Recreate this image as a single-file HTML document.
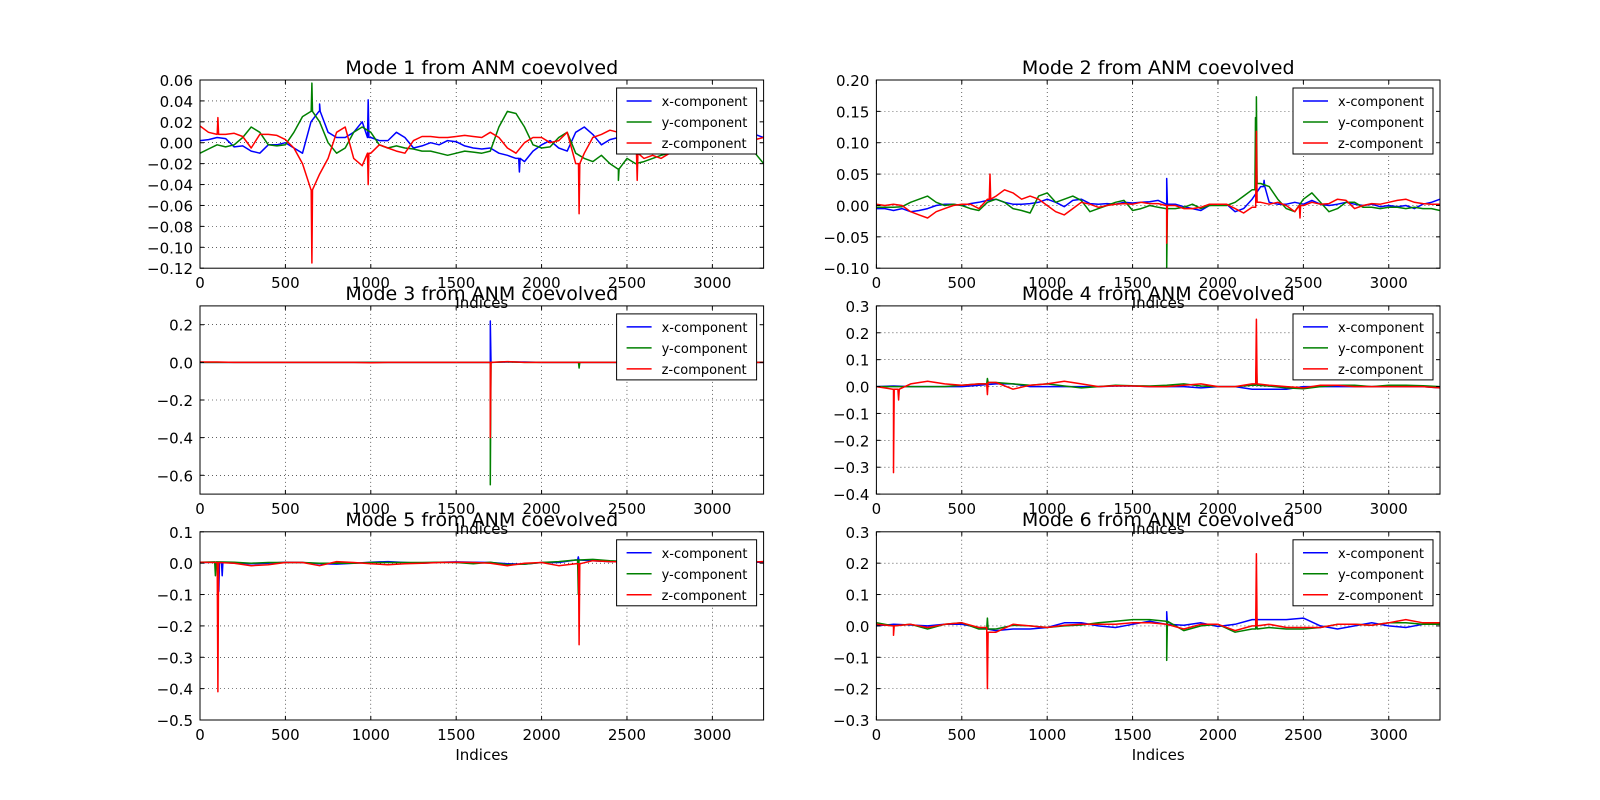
<!DOCTYPE html>
<html><head><meta charset="utf-8">
<style>
body{margin:0;background:#fff;}
svg{display:block;font-family:"DejaVu Sans","Liberation Sans",sans-serif;}
</style></head>
<body>
<svg id="fig" width="1600" height="800" viewBox="0 0 1600 800" xmlns="http://www.w3.org/2000/svg">
<rect x="0" y="0" width="1600" height="800" fill="#fff"/>
</svg>
<script>
// ---- data ----
const xTicks=[0,500,1000,1500,2000,2500,3000];
const grid50=[];for(let i=0;i<=3300;i+=50)grid50.push(i);
const grid100=[];for(let i=0;i<=3300;i+=100)grid100.push(i);

const m1Ticks=[0.06,0.04,0.02,0,-0.02,-0.04,-0.06,-0.08,-0.10,-0.12];
const m1X=[0.002,0.003,0.005,0.004,-0.004,-0.003,-0.008,-0.01,-0.002,-0.002,0,-0.005,-0.01,0.02,0.03,0.01,0.005,0.005,0.01,0.02,0.005,0.002,0.002,0.01,0.005,-0.005,-0.003,0,-0.002,0.002,0.001,-0.003,-0.005,-0.006,-0.005,-0.01,-0.012,-0.015,-0.018,-0.008,-0.002,0.002,-0.005,-0.008,0.01,0.015,0.008,-0.002,0.003,0.005,0.008,0.005,0.004,0.003,0.006,0.004,0.003,0.002,0.003,0.002,0.004,0.003,0.002,0.003,0.004,0.008,0.005];
const m1XspX=[700,985,1870],m1XspY=[0.037,0.041,-0.028];
const m1Y=[-0.01,-0.006,-0.002,-0.004,-0.002,0.005,0.015,0.01,-0.002,-0.003,-0.002,0.01,0.025,0.03,0.02,0,-0.01,-0.005,0.01,0.015,0.01,-0.002,-0.005,-0.003,-0.005,-0.006,-0.008,-0.008,-0.01,-0.012,-0.01,-0.008,-0.009,-0.01,-0.008,0.015,0.03,0.028,0.015,-0.002,-0.005,-0.004,0.005,0.01,-0.01,-0.015,-0.018,-0.012,-0.02,-0.025,-0.015,-0.02,-0.018,-0.015,-0.012,-0.01,-0.008,-0.01,-0.008,-0.008,-0.006,-0.005,-0.006,-0.006,-0.005,-0.01,-0.02];
const m1YspX=[655,2450],m1YspY=[0.057,-0.036];
const m1Z=[0.016,0.01,0.008,0.008,0.009,0.006,-0.005,0.008,0.008,0.007,0.003,-0.005,-0.02,-0.045,-0.03,-0.015,0.01,0.015,-0.015,-0.022,-0.01,-0.002,-0.005,-0.008,-0.01,0.002,0.006,0.006,0.005,0.005,0.006,0.007,0.006,0.005,0.01,0.005,-0.005,-0.01,0,0.005,0.005,0,0.002,0.01,-0.02,-0.01,0.005,0.008,0.012,0.01,0.005,-0.01,-0.015,-0.012,-0.015,-0.01,0.008,0.008,0.008,0.008,0.007,0.008,0.008,0.008,0.005,0.003,0.005];
const m1ZspX=[105,655,985,2220,2560],m1ZspY=[0.024,-0.115,-0.04,-0.068,-0.036];

const m2Ticks=[0.20,0.15,0.10,0.05,0,-0.05,-0.10];
const m2X=[-0.005,-0.005,-0.008,-0.005,-0.01,-0.008,-0.005,0,0.002,0.002,0,0.003,0.005,0.008,0.01,0.005,0.002,0.002,0.003,0.005,0.01,0.005,-0.002,0.008,0.01,0.003,0.002,0.003,0.002,0.005,0.004,0.005,0.006,0.008,0.002,0.002,-0.002,-0.005,-0.008,0,0.002,0.002,-0.01,-0.005,0.01,0.03,0.005,0.002,0.002,0.005,0.002,0.008,0.002,0,0.002,0.005,0.002,0,0.002,-0.002,0,-0.002,0,-0.005,0.002,0.005,0.01];
const m2XspX=[1700,2270],m2XspY=[0.043,0.04];
const m2Y=[-0.003,-0.003,-0.003,-0.002,0.005,0.01,0.015,0.005,0,0.002,0,-0.005,-0.008,0.005,0.01,0.005,-0.005,-0.008,-0.012,0.015,0.02,0.005,0.01,0.015,0.008,-0.01,-0.005,0,0.005,0.008,-0.008,-0.005,0,-0.003,-0.005,-0.005,-0.003,0.002,-0.005,0,0,0,0.005,0.015,0.025,0.035,0.03,0.01,-0.005,-0.01,0.01,0.02,0.005,-0.01,-0.005,0.005,0.005,-0.003,-0.003,-0.005,-0.003,-0.003,-0.005,-0.003,-0.005,-0.005,-0.008];
const m2YspX=[1700,2220,2225],m2YspY=[-0.1,0.14,0.173];
const m2Z=[0.002,0,0.002,0,-0.01,-0.015,-0.02,-0.01,-0.005,0,0.002,0.002,-0.005,0.01,0.015,0.025,0.02,0.01,0.015,0.01,0,-0.01,-0.015,-0.005,0.005,0.002,-0.003,0,0.002,0.003,0.002,0.005,0.003,0.003,0,0,-0.005,-0.005,-0.003,0.002,0.002,0.002,-0.005,-0.012,-0.003,0.005,0.002,0.005,0,-0.01,0,0.005,0.002,0.003,0.01,0.008,-0.005,0,0.003,0.002,0.005,0.008,0.01,0.005,0.003,0.002,0.002];
const m2ZspX=[665,1700,2225,2480],m2ZspY=[0.05,-0.06,0.118,-0.02];

const m3Ticks=[0.2,0,-0.2,-0.4,-0.6];
const m3X=[0,0,0,0,0,0,0,0,0,0,0,0,0,0,0,0,0,0,0.002,0.002,0,0,0,0,0,0,0,0,0,0,0,0,0,0];
const m3XspX=[1700],m3XspY=[0.22];
const m3Y=[0,0,0,0,0,0,0,0,0,0,0,0,0,0,0,0,0,0,0.003,0,0,0,0,0,0,0,0,0,0,0,0,0,0,0];
const m3YspX=[1700,2220],m3YspY=[-0.65,-0.03];
const m3Z=[0.002,0.002,0,0,0,0,0,0,0,0,-0.002,0,0,0,0,0,0,0,0.004,0,0,0,0,0,0,0,0,0,0,0,0,0,0,0];
const m3ZspX=[1700],m3ZspY=[-0.4];

const m4Ticks=[0.3,0.2,0.1,0,-0.1,-0.2,-0.3,-0.4];
const m4X=[0,0.002,0,0,0,0,0.005,0.01,0.01,0,0,0,0,0,0.002,0.002,0,0,0,-0.005,0,0,-0.01,-0.01,-0.01,0,0,0,0,0,0,0,0,-0.005];
const m4XspX=[],m4XspY=[];
const m4Y=[0,0,0,0,0,0.005,0.01,0.015,0.01,0.005,0.01,0.002,-0.005,0,0.005,0.003,0.002,0.005,0.01,0.002,0,0,0.005,0.002,-0.005,-0.008,0,0.005,0.005,0,0.005,0.005,0.003,0];
const m4YspX=[650,2225],m4YspY=[0.03,0.1];
const m4Z=[0,-0.01,0.01,0.02,0.01,0.005,0.01,0.015,-0.01,0.005,0.01,0.02,0.01,0,0.003,0.002,0,0,0.005,0.01,0,0,0.01,0.005,0,-0.005,0.005,0.005,0,0,0,0,0,-0.005];
const m4ZspX=[100,130,650,2225],m4ZspY=[-0.32,-0.05,-0.03,0.25];

const m5Ticks=[0.1,0,-0.1,-0.2,-0.3,-0.4,-0.5];
const m5X=[0.002,0.003,0,-0.002,0,0.003,0.002,-0.002,-0.003,0,0.003,0.005,0.002,0,0.003,0.004,0.003,0.002,-0.002,-0.003,0.002,0.002,0.01,0.008,0.005,0.005,0.003,0.003,0.003,0.003,0.003,0.003,0.003,0.003];
const m5XspX=[110,130,2215],m5XspY=[-0.09,-0.04,0.02];
const m5Y=[0.003,0.004,0.003,0,0.002,0.002,0.002,0,0,0,0.002,0.002,0.002,0.002,0.003,0.002,-0.002,0.003,-0.005,-0.003,0.002,0.005,0.01,0.012,0.008,0.005,0.004,0.004,0.003,0.003,0.003,0.003,0.003,0.005];
const m5YspX=[90,2215],m5YspY=[-0.04,-0.1];
const m5Z=[0.003,0.002,0,-0.008,-0.005,0.002,0.002,-0.008,0.005,0.002,-0.002,-0.005,-0.002,0,0.002,0.003,0.002,0,-0.008,0,0.002,-0.008,-0.002,0.008,0.005,0.004,0.004,0.004,0.003,0.003,0.003,0.003,0.003,0.005];
const m5ZspX=[105,2220],m5ZspY=[-0.41,-0.26];

const m6Ticks=[0.3,0.2,0.1,0,-0.1,-0.2,-0.3];
const m6X=[0,0.005,0.003,0,0.005,0.005,-0.005,-0.015,-0.01,-0.01,-0.005,0.01,0.01,0,-0.005,0.005,0.015,0.005,0.002,0.01,-0.002,0.005,0.02,0.02,0.02,0.025,0,-0.01,0,0.01,0,-0.005,0.005,0.005];
const m6XspX=[1700],m6XspY=[0.045];
const m6Y=[0.01,0,0.005,-0.01,0.005,0.01,-0.01,-0.01,0.002,0,-0.005,0,0.003,0.01,0.015,0.02,0.02,0.015,-0.015,0,0.005,-0.02,-0.01,-0.005,-0.01,-0.01,-0.005,0.005,0.005,0.002,0.01,0.01,0.005,0.005];
const m6YspX=[650,1700,2225],m6YspY=[0.025,-0.11,0.07];
const m6Z=[0.005,0,0.005,-0.005,0.005,0.01,-0.005,-0.02,0.005,0,-0.005,0.002,0.005,0.005,0.005,0.01,0.01,0.005,-0.01,0.005,0.005,-0.015,0,0.005,-0.005,-0.005,-0.005,0.005,0.005,0.002,0.01,0.02,0.01,0.01];
const m6ZspX=[100,650,2225],m6ZspY=[-0.03,-0.2,0.23];

// ---- layout ----
const NS="http://www.w3.org/2000/svg";
const svg=document.getElementById('fig');
const colL=[200,876.4],colW=563.6;
const rowT=[80,305.9,531.8],rowH=188.2;
function mk(tag,attrs,parent){const e=document.createElementNS(NS,tag);for(const k in attrs)e.setAttribute(k,attrs[k]);(parent||svg).appendChild(e);return e;}
function fmt(v,d){let s=Math.abs(v).toFixed(d);return (v<-1e-9?'\u2212':'')+s;}
function merge(grid,vals,sx,sy){const pts=grid.map((x,i)=>[x,vals[i]]);for(let i=0;i<sx.length;i++){pts.push([sx[i]-4,null]);pts.push([sx[i],sy[i]]);pts.push([sx[i]+4,null]);}pts.sort((a,b)=>a[0]-b[0]);
  for(let i=0;i<pts.length;i++){if(pts[i][1]===null){const x=pts[i][0];const j=Math.max(0,Math.min(grid.length-1,Math.round(x/(grid[1]-grid[0]))));pts[i][1]=vals[j];}}return pts;}

const plots=[
 {n:1,c:0,r:0,ymin:-0.12,ymax:0.06,ticks:m1Ticks,dec:2,grid:grid50,s:[[m1X,m1XspX,m1XspY],[m1Y,m1YspX,m1YspY],[m1Z,m1ZspX,m1ZspY]]},
 {n:2,c:1,r:0,ymin:-0.10,ymax:0.20,ticks:m2Ticks,dec:2,grid:grid50,s:[[m2X,m2XspX,m2XspY],[m2Y,m2YspX,m2YspY],[m2Z,m2ZspX,m2ZspY]]},
 {n:3,c:0,r:1,ymin:-0.7,ymax:0.3,ticks:m3Ticks,dec:1,grid:grid100,s:[[m3X,m3XspX,m3XspY],[m3Y,m3YspX,m3YspY],[m3Z,m3ZspX,m3ZspY]]},
 {n:4,c:1,r:1,ymin:-0.4,ymax:0.3,ticks:m4Ticks,dec:1,grid:grid100,s:[[m4X,m4XspX,m4XspY],[m4Y,m4YspX,m4YspY],[m4Z,m4ZspX,m4ZspY]]},
 {n:5,c:0,r:2,ymin:-0.5,ymax:0.1,ticks:m5Ticks,dec:1,grid:grid100,s:[[m5X,m5XspX,m5XspY],[m5Y,m5YspX,m5YspY],[m5Z,m5ZspX,m5ZspY]]},
 {n:6,c:1,r:2,ymin:-0.3,ymax:0.3,ticks:m6Ticks,dec:1,grid:grid100,s:[[m6X,m6XspX,m6XspY],[m6Y,m6YspX,m6YspY],[m6Z,m6ZspX,m6ZspY]]}
];
const colors=['#0000ff','#008000','#ff0000'];
const names=['x-component','y-component','z-component'];

plots.forEach(p=>{
  const L=colL[p.c],T=rowT[p.r],W=colW,H=rowH;
  const xs=v=>L+v/3300*W, ys=v=>T+(p.ymax-v)/(p.ymax-p.ymin)*H;
  const g=mk('g',{});
  
  
  const cid='clip'+p.n;
  const cp=mk('clipPath',{id:cid},g);mk('rect',{x:L,y:T,width:W,height:H},cp);
  xTicks.forEach(t=>{if(t>0){const l=mk('line',{x1:xs(t),x2:xs(t),y1:T,y2:T+H,stroke:'#000','stroke-width':0.6,'stroke-dasharray':'1,3'},g);}});
  p.ticks.forEach(t=>{const y=ys(t);if(y>T+0.5&&y<T+H-0.5){const l=mk('line',{x1:L,x2:L+W,y1:y,y2:y,stroke:'#000','stroke-width':0.6,'stroke-dasharray':'1,3'},g);}});
  p.s.forEach((s,k)=>{
    const pts=merge(p.grid,s[0],s[1],s[2]);
    const d=pts.map((q,i)=>(i?'L':'M')+xs(q[0]).toFixed(1)+','+ys(q[1]).toFixed(1)).join('');
    const path=mk('path',{d:d,fill:'none',stroke:colors[k],'stroke-width':1.5,'stroke-linejoin':'round','clip-path':'url(#'+cid+')'},g);
    
    
  });
  const fr=mk('rect',{x:L,y:T,width:W,height:H,fill:'none',stroke:'#000','stroke-width':1},g);
  
  xTicks.forEach(t=>{const x=xs(t);
    mk('line',{x1:x,x2:x,y1:T+H,y2:T+H-4,stroke:'#000'},g);mk('line',{x1:x,x2:x,y1:T,y2:T+4,stroke:'#000'},g);
    const tx=mk('text',{x:x,y:T+H+20,'font-size':15,'text-anchor':'middle',fill:'#000'},g);tx.textContent=t;
    });
  p.ticks.forEach(t=>{const y=ys(t);
    mk('line',{x1:L,x2:L+4,y1:y,y2:y,stroke:'#000'},g);mk('line',{x1:L+W,x2:L+W-4,y1:y,y2:y,stroke:'#000'},g);
    const tx=mk('text',{x:L-7,y:y+6,'font-size':15,'text-anchor':'end',fill:'#000'},g);tx.textContent=fmt(t,p.dec);
    });
  const ti=mk('text',{x:L+W/2,y:T-6,'font-size':19,'text-anchor':'middle',fill:'#000'},g);ti.textContent='Mode '+p.n+' from ANM coevolved';
  
  const xl=mk('text',{x:L+W/2,y:T+H+40,'font-size':15,'text-anchor':'middle',fill:'#000'},g);xl.textContent='Indices';
  
  const lg=mk('g',{},g);
  
  const lx=L+W-147,ly=T+8;
  mk('rect',{x:lx,y:ly,width:140,height:66,fill:'#fff',stroke:'#000','stroke-width':1},lg);
  names.forEach((nm,k)=>{const yy=ly+13+k*21;
    const e=mk('g',{},lg);
    mk('line',{x1:lx+10,x2:lx+35,y1:yy,y2:yy,stroke:colors[k],'stroke-width':1.5},e);
    const t=mk('text',{x:lx+45,y:yy+5,'font-size':13,fill:'#000'},e);t.textContent=nm;});
});
</script>
</body></html>
